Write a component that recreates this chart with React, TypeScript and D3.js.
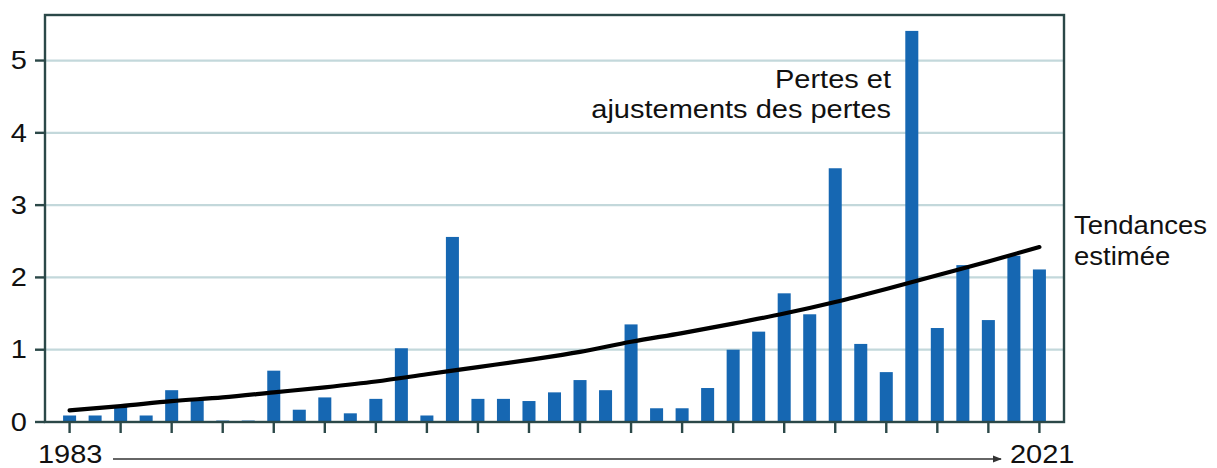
import React from 'react';
import * as d3 from 'd3';

// Annual losses (bars), 1983..2021
const years: number[] = d3.range(1983, 2022);
const losses: number[] = [
    0.09, 0.09, 0.21, 0.09, 0.44, 0.32, 0.02, 0.02, 0.71, 0.17,
    0.34, 0.12, 0.32, 1.02, 0.09, 2.56, 0.32, 0.32, 0.29, 0.41,
    0.58, 0.44, 1.35, 0.19, 0.19, 0.47, 1.0, 1.25, 1.78, 1.49,
    3.51, 1.08, 0.69, 5.41, 1.3, 2.17, 1.41, 2.3, 2.11,
];

// Estimated trend, read every two years
const trendYears: number[] = [1983, 1985, 1987, 1989, 1991, 1993, 1995, 1997, 1999, 2001, 2003, 2005, 2007, 2009, 2011, 2013, 2015, 2017, 2019, 2021];
const trendValues: number[] = [0.16, 0.22, 0.29, 0.34, 0.41, 0.48, 0.56, 0.66, 0.76, 0.86, 0.97, 1.11, 1.23, 1.36, 1.5, 1.66, 1.84, 2.03, 2.22, 2.42];

const yTicks: number[] = [0, 1, 2, 3, 4, 5];
const xTickYears: number[] = d3.range(1983, 2022, 2);

const W = 1217;
const H = 468;
const frame = { left: 45, top: 15, right: 1064, bottom: 422 };

const AXIS = '#2b4848';
const GRID = '#c3d8db';
const BAR = '#1667b2';
const TXT = '#111';
const FONT = 'Liberation Sans, Arial, sans-serif';
const SX = 1.16; // the reference text is a little stretched horizontally

const App: React.FC = () => {
    const x = d3.scaleBand<number>()
        .domain(years)
        .range([56.7, 1052.3])
        .paddingInner(0.49)
        .paddingOuter(0.25);
    const cx = (yr: number) => (x(yr) ?? 0) + x.bandwidth() / 2;

    const y = d3.scaleLinear().domain([0, 5.63]).range([frame.bottom, frame.top]);

    const trend = d3.line<number>()
        .x((_, i) => cx(trendYears[i]))
        .y(d => y(d))
        .curve(d3.curveMonotoneX)(trendValues) ?? '';

    const label = (tx: number, ty: number, text: string, anchor: 'start' | 'end', sx = SX) => (
        <text
            key={text + tx + ty}
            transform={`translate(${tx},${ty}) scale(${sx},1)`}
            textAnchor={anchor}
            fontFamily={FONT}
            fontSize={25}
            fill={TXT}
        >
            {text}
        </text>
    );

    return (
        <svg width={W} height={H} style={{ position: 'absolute', left: 0, top: 0, background: '#fff' }}>
            <defs>
                <marker id="arrow" viewBox="0 0 10 10" refX="9" refY="5" markerWidth="7" markerHeight="7" orient="auto">
                    <path d="M0,1 L10,5 L0,9 Z" fill="#333" />
                </marker>
            </defs>

            {/* Gridlines */}
            {yTicks.filter(t => t > 0).map(t => (
                <line key={'g' + t} x1={frame.left} x2={frame.right} y1={y(t)} y2={y(t)} stroke={GRID} strokeWidth={2.2} />
            ))}

            {/* Bars */}
            {years.map((yr, i) => (
                <rect
                    key={yr}
                    x={x(yr)}
                    width={x.bandwidth()}
                    y={y(losses[i])}
                    height={frame.bottom - y(losses[i])}
                    fill={BAR}
                />
            ))}

            {/* Trend */}
            <path d={trend} fill="none" stroke="#000" strokeWidth={4.2} strokeLinecap="round" />

            {/* Frame */}
            <rect
                x={frame.left}
                y={frame.top}
                width={frame.right - frame.left}
                height={frame.bottom - frame.top}
                fill="none"
                stroke={AXIS}
                strokeWidth={2.4}
            />

            {/* Y ticks and labels */}
            {yTicks.map(t => (
                <g key={'y' + t}>
                    <line x1={frame.left - 10} x2={frame.left} y1={y(t)} y2={y(t)} stroke={AXIS} strokeWidth={2.4} />
                    <text
                        transform={`translate(27,${y(t)}) scale(${SX},1)`}
                        dy="0.35em"
                        textAnchor="end"
                        fontFamily={FONT}
                        fontSize={25}
                        fill={TXT}
                    >
                        {t}
                    </text>
                </g>
            ))}

            {/* X ticks */}
            {xTickYears.map(yr => (
                <line key={'x' + yr} x1={cx(yr)} x2={cx(yr)} y1={frame.bottom} y2={frame.bottom + 11} stroke={AXIS} strokeWidth={2.4} />
            ))}

            {/* Time arrow */}
            <line x1={113} x2={1001} y1={459} y2={459} stroke="#333" strokeWidth={1.3} markerEnd="url(#arrow)" />
            {label(38, 463, String(years[0]), 'start')}
            {label(1010, 463, String(years[years.length - 1]), 'start')}

            {/* Annotations */}
            {label(891, 88, 'Pertes et', 'end')}
            {label(891, 118, 'ajustements des pertes', 'end')}
            {label(1074, 234, 'Tendances', 'start', 1.1)}
            {label(1074, 265, 'estimée', 'start', 1.1)}
        </svg>
    );
};

export default App;
